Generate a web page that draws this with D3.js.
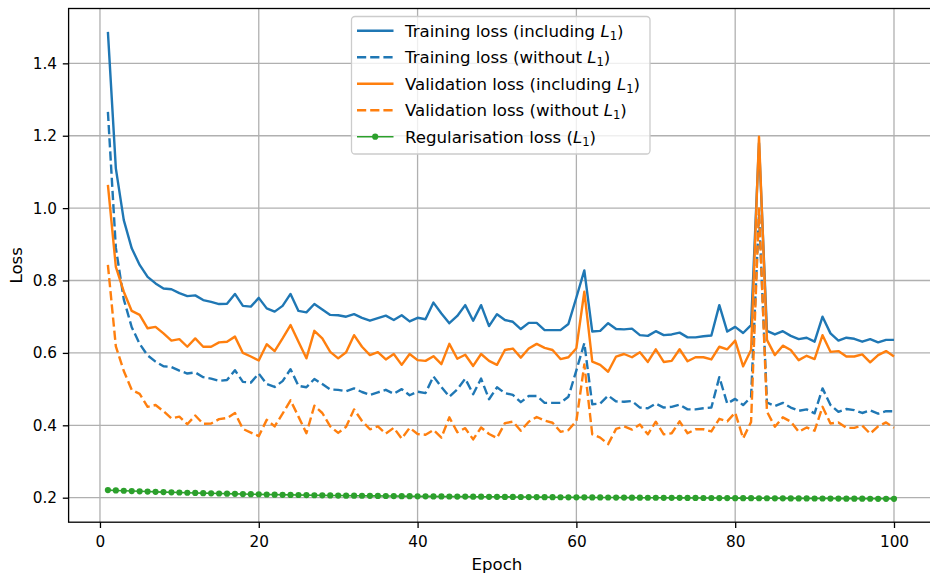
<!DOCTYPE html>
<html>
<head>
<meta charset="utf-8">
<script src="https://cdn.jsdelivr.net/npm/d3@7"></script>
<style>
  body { margin: 0; background: #fff; }
  svg { display: block; font-family: "DejaVu Sans", sans-serif; }
</style>
</head>
<body>
<div id="chart"></div>
<script>
// Values, one per epoch (1..100)
const trainTotal = [
  1.487, 1.110, 0.967, 0.889, 0.843, 0.810, 0.792, 0.778, 0.776, 0.765,
  0.757, 0.759, 0.746, 0.741, 0.735, 0.736, 0.763, 0.730, 0.728, 0.752,
  0.723, 0.714, 0.730, 0.763, 0.716, 0.712, 0.735, 0.720, 0.705, 0.704,
  0.700, 0.707, 0.697, 0.689, 0.696, 0.703, 0.691, 0.704, 0.687, 0.697,
  0.693, 0.739, 0.709, 0.682, 0.702, 0.732, 0.689, 0.732, 0.674, 0.707,
  0.691, 0.686, 0.666, 0.683, 0.683, 0.663, 0.663, 0.663, 0.680, 0.753,
  0.828, 0.659, 0.661, 0.682, 0.666, 0.665, 0.667, 0.649, 0.647, 0.660,
  0.649, 0.651, 0.656, 0.643, 0.643, 0.646, 0.648, 0.732, 0.659, 0.672,
  0.655, 0.677, 1.180, 0.661, 0.651, 0.660, 0.647, 0.638, 0.642, 0.631,
  0.700, 0.654, 0.634, 0.642, 0.639, 0.631, 0.638, 0.629, 0.636, 0.636
];
const trainData = [
  1.266, 0.890, 0.748, 0.671, 0.625, 0.593, 0.576, 0.563, 0.561, 0.551,
  0.543, 0.546, 0.533, 0.529, 0.523, 0.525, 0.552, 0.520, 0.518, 0.543,
  0.514, 0.506, 0.522, 0.555, 0.509, 0.505, 0.528, 0.514, 0.499, 0.498,
  0.494, 0.502, 0.492, 0.484, 0.491, 0.498, 0.487, 0.500, 0.483, 0.493,
  0.489, 0.535, 0.506, 0.479, 0.499, 0.529, 0.486, 0.529, 0.472, 0.505,
  0.489, 0.484, 0.464, 0.481, 0.481, 0.462, 0.462, 0.462, 0.479, 0.552,
  0.627, 0.458, 0.460, 0.482, 0.466, 0.465, 0.467, 0.449, 0.447, 0.460,
  0.449, 0.451, 0.457, 0.444, 0.444, 0.447, 0.449, 0.533, 0.460, 0.473,
  0.456, 0.478, 0.985, 0.463, 0.453, 0.462, 0.449, 0.440, 0.444, 0.433,
  0.502, 0.456, 0.437, 0.445, 0.442, 0.434, 0.441, 0.432, 0.439, 0.439
];
const valTotal = [
  1.064, 0.838, 0.769, 0.716, 0.705, 0.668, 0.672, 0.654, 0.634, 0.638,
  0.617, 0.640, 0.617, 0.617, 0.629, 0.631, 0.645, 0.600, 0.590, 0.579,
  0.624, 0.605, 0.640, 0.677, 0.631, 0.585, 0.661, 0.640, 0.603, 0.585,
  0.602, 0.649, 0.617, 0.594, 0.602, 0.582, 0.597, 0.567, 0.597, 0.580,
  0.578, 0.591, 0.569, 0.625, 0.584, 0.595, 0.564, 0.597, 0.578, 0.567,
  0.608, 0.612, 0.587, 0.612, 0.625, 0.614, 0.608, 0.583, 0.588, 0.613,
  0.769, 0.576, 0.567, 0.548, 0.590, 0.597, 0.588, 0.602, 0.575, 0.610,
  0.575, 0.578, 0.610, 0.577, 0.588, 0.588, 0.582, 0.617, 0.610, 0.634,
  0.563, 0.608, 1.197, 0.636, 0.594, 0.620, 0.608, 0.580, 0.592, 0.583,
  0.649, 0.603, 0.605, 0.590, 0.590, 0.596, 0.574, 0.594, 0.605, 0.590
];
const valData = [
  0.843, 0.618, 0.550, 0.498, 0.487, 0.451, 0.456, 0.439, 0.419, 0.424,
  0.403, 0.427, 0.404, 0.405, 0.417, 0.420, 0.434, 0.390, 0.380, 0.370,
  0.415, 0.397, 0.432, 0.469, 0.424, 0.378, 0.454, 0.434, 0.397, 0.379,
  0.396, 0.444, 0.412, 0.389, 0.397, 0.377, 0.393, 0.363, 0.393, 0.376,
  0.374, 0.387, 0.366, 0.422, 0.381, 0.392, 0.361, 0.394, 0.376, 0.365,
  0.406, 0.410, 0.385, 0.410, 0.423, 0.413, 0.407, 0.382, 0.387, 0.412,
  0.568, 0.375, 0.366, 0.348, 0.390, 0.397, 0.388, 0.402, 0.375, 0.410,
  0.375, 0.378, 0.411, 0.378, 0.389, 0.389, 0.383, 0.418, 0.411, 0.435,
  0.364, 0.409, 0.999, 0.438, 0.396, 0.422, 0.410, 0.382, 0.394, 0.385,
  0.451, 0.405, 0.408, 0.393, 0.393, 0.399, 0.377, 0.397, 0.408, 0.393
];
const regLoss = [
  0.2210, 0.2200, 0.2192, 0.2184, 0.2176, 0.2169, 0.2162, 0.2155, 0.2149, 0.2143,
  0.2137, 0.2131, 0.2126, 0.2121, 0.2116, 0.2111, 0.2106, 0.2101, 0.2096, 0.2092,
  0.2088, 0.2084, 0.2080, 0.2077, 0.2074, 0.2071, 0.2068, 0.2065, 0.2062, 0.2059,
  0.2057, 0.2055, 0.2053, 0.2051, 0.2049, 0.2047, 0.2045, 0.2043, 0.2041, 0.2039,
  0.2037, 0.2036, 0.2034, 0.2033, 0.2031, 0.2030, 0.2028, 0.2027, 0.2025, 0.2024,
  0.2022, 0.2021, 0.2019, 0.2018, 0.2016, 0.2015, 0.2014, 0.2012, 0.2011, 0.2010,
  0.2009, 0.2007, 0.2006, 0.2005, 0.2004, 0.2003, 0.2001, 0.2000, 0.1999, 0.1998,
  0.1997, 0.1996, 0.1995, 0.1994, 0.1993, 0.1992, 0.1991, 0.1990, 0.1989, 0.1988,
  0.1987, 0.1986, 0.1985, 0.1984, 0.1983, 0.1982, 0.1981, 0.1980, 0.1979, 0.1978,
  0.1977, 0.1976, 0.1975, 0.1974, 0.1973, 0.1972, 0.1971, 0.1970, 0.1969, 0.1968
];
const epochs = d3.range(1, trainTotal.length + 1);

const xTicks = [0, 20, 40, 60, 80, 100];
const yTicks = [0.2, 0.4, 0.6, 0.8, 1.0, 1.2, 1.4];

const seriesInfo = [
  { name: "Training loss (including ", values: trainTotal, color: "#1f77b4", dash: null },
  { name: "Training loss (without ", values: trainData, color: "#1f77b4", dash: "9.2,4" },
  { name: "Validation loss (including ", values: valTotal, color: "#ff7f0e", dash: null },
  { name: "Validation loss (without ", values: valData, color: "#ff7f0e", dash: "9.2,4" },
];

// Figure and axes geometry (matplotlib-like)
const width = 930;
const height = 576;
const margin = { top: 8.5, right: -3.3, bottom: 53.8, left: 68.6 };
const innerW = width - margin.left - margin.right;
const innerH = height - margin.top - margin.bottom;
const tickFont = '15.3px';
const labelFont = '16.6px';

const svg = d3.select('#chart')
  .append('svg')
  .attr('width', width)
  .attr('height', height);

const g = svg.append('g')
  .attr('transform', `translate(${margin.left},${margin.top})`);

// Scales with 5% padding like matplotlib autoscale
const xPad = (d3.max(epochs) - d3.min(epochs)) * 0.05;
const xScale = d3.scaleLinear()
  .domain([d3.min(epochs) - xPad, d3.max(epochs) + xPad])
  .range([0, innerW]);

const allVals = trainTotal.concat(trainData, valTotal, valData, regLoss);
const yMin = d3.min(allVals), yMax = d3.max(allVals);
const yPad = (yMax - yMin) * 0.05;
const yScale = d3.scaleLinear()
  .domain([yMin - yPad, yMax + yPad])
  .range([innerH, 0]);

// Grid
g.append('g')
  .selectAll('line')
  .data(xTicks)
  .enter().append('line')
  .attr('x1', d => xScale(d)).attr('x2', d => xScale(d))
  .attr('y1', 0).attr('y2', innerH)
  .attr('stroke', '#b0b0b0').attr('stroke-width', 1.3);

g.append('g')
  .selectAll('line')
  .data(yTicks)
  .enter().append('line')
  .attr('y1', d => yScale(d)).attr('y2', d => yScale(d))
  .attr('x1', 0).attr('x2', innerW)
  .attr('stroke', '#b0b0b0').attr('stroke-width', 1.3);

// Loss lines
const line = d3.line()
  .x((d, i) => xScale(epochs[i]))
  .y(d => yScale(d));

seriesInfo.forEach(s => {
  g.append('path')
    .datum(s.values)
    .attr('fill', 'none')
    .attr('stroke', s.color)
    .attr('stroke-width', 2.4)
    .attr('stroke-dasharray', s.dash)
    .attr('stroke-linejoin', 'round')
    .attr('d', line);
});

// Regularisation loss with dots
g.append('path')
  .datum(regLoss)
  .attr('fill', 'none')
  .attr('stroke', '#2ca02c')
  .attr('stroke-width', 1.6)
  .attr('d', line);

g.selectAll('.regdot')
  .data(regLoss)
  .enter().append('circle')
  .attr('class', 'regdot')
  .attr('cx', (d, i) => xScale(epochs[i]))
  .attr('cy', d => yScale(d))
  .attr('r', 3.1)
  .attr('fill', '#2ca02c');

// Axes
const xAxis = g.append('g')
  .attr('transform', `translate(0,${innerH})`)
  .call(d3.axisBottom(xScale).tickValues(xTicks).tickSize(5.8).tickPadding(5.8).tickFormat(d3.format('d')));
xAxis.selectAll('text').attr('dy', null).attr('y', 24.8);

const yAxis = g.append('g')
  .call(d3.axisLeft(yScale).tickValues(yTicks).tickSize(5.8).tickPadding(5.8).tickFormat(d3.format('.1f')));

[xAxis, yAxis].forEach(ax => {
  ax.select('.domain').remove();
  ax.selectAll('line').attr('stroke', '#000').attr('stroke-width', 1.3);
  ax.selectAll('text')
    .attr('fill', '#000')
    .style('font-size', tickFont)
    .style('font-family', '"DejaVu Sans", sans-serif');
});

// Spines
g.append('rect')
  .attr('x', 0).attr('y', 0)
  .attr('width', innerW).attr('height', innerH)
  .attr('fill', 'none')
  .attr('stroke', '#000')
  .attr('stroke-width', 1.3);

// Axis labels
svg.append('text')
  .attr('x', margin.left + xScale(50))
  .attr('y', 569.5)
  .attr('text-anchor', 'middle')
  .style('font-size', labelFont)
  .text('Epoch');

svg.append('text')
  .attr('transform', `translate(21.5,${margin.top + innerH / 2}) rotate(-90)`)
  .attr('text-anchor', 'middle')
  .style('font-size', labelFont)
  .text('Loss');

// Legend
const legend = svg.append('g').attr('transform', 'translate(351.5,16.5)');

legend.append('rect')
  .attr('width', 298.5).attr('height', 137.5)
  .attr('rx', 3.5).attr('ry', 3.5)
  .attr('fill', 'rgba(255,255,255,0.8)')
  .attr('stroke', '#cccccc')
  .attr('stroke-width', 1.3);

const legendItems = seriesInfo.concat([
  { name: "Regularisation loss (", values: regLoss, color: "#2ca02c", dash: null, marker: true }
]);

legendItems.forEach((s, i) => {
  const cy = 14.2 + i * 26.5;
  legend.append('line')
    .attr('x1', 5.5).attr('x2', 42)
    .attr('y1', cy).attr('y2', cy)
    .attr('stroke', s.color)
    .attr('stroke-width', s.marker ? 1.6 : 2.4)
    .attr('stroke-dasharray', s.dash);
  if (s.marker) {
    legend.append('circle')
      .attr('cx', 23.7).attr('cy', cy).attr('r', 3.1)
      .attr('fill', s.color);
  }
  const t = legend.append('text')
    .attr('x', 53.5)
    .attr('y', cy + 6)
    .style('font-size', labelFont);
  t.append('tspan').text(s.name);
  t.append('tspan').style('font-style', 'italic').text('L');
  t.append('tspan').attr('dy', 3).style('font-size', '11.6px').text('1');
  t.append('tspan').attr('dy', -3).text(')');
});
</script>
</body>
</html>
